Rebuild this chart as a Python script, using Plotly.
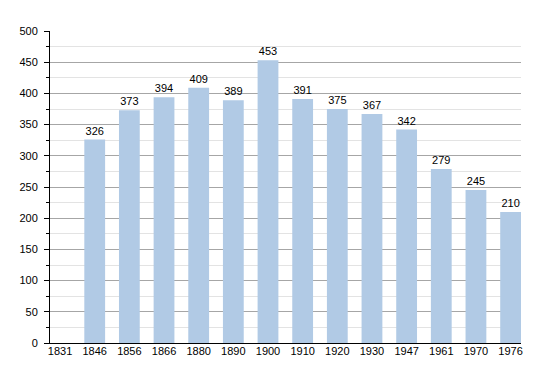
import plotly.graph_objects as go

years = ["1831", "1846", "1856", "1866", "1880", "1890", "1900", "1910", "1920", "1930", "1947", "1961", "1970", "1976"]
population = [None, 326, 373, 394, 409, 389, 453, 391, 375, 367, 342, 279, 245, 210]
y_ticks = [0, 50, 100, 150, 200, 250, 300, 350, 400, 450, 500]

fig = go.Figure()
fig.add_trace(go.Bar(
    x=years, y=population,
    marker=dict(color="#b1cae5", line=dict(width=0)),
    width=0.6,
    text=[("" if v is None else str(v)) for v in population],
    textposition="outside",
    textfont=dict(family="Liberation Sans, Arial", size=11, color="#000000"),
    cliponaxis=False,
    hoverinfo="skip",
))

fig.update_layout(
    width=550, height=373,
    margin=dict(l=42, r=37, t=23, b=38),
    paper_bgcolor="white", plot_bgcolor="white",
    font=dict(family="Liberation Sans, Arial", size=11, color="#000000"),
    showlegend=False,
    bargap=0.4,
)
fig.update_xaxes(
    type="category",
    range=[-0.29, 13.3],
    showline=True, linecolor="#000000", linewidth=1,
    ticks="", showgrid=False,
    tickfont=dict(size=11),
    ticklabelstandoff=-2,
)
fig.update_yaxes(
    range=[0, 500],
    tickvals=y_ticks,
    showline=True, linecolor="#000000", linewidth=1,
    ticks="outside", ticklen=5, tickcolor="#000000",
    showgrid=True, gridcolor="#a6a6a6", gridwidth=1,
    zeroline=False,
    minor=dict(dtick=25, showgrid=True, gridcolor="#e3e3e3", ticks="outside", ticklen=3, tickcolor="#000000"),
    tickfont=dict(size=11),
    ticklabelstandoff=4,
)

fig.write_html("out.html")
